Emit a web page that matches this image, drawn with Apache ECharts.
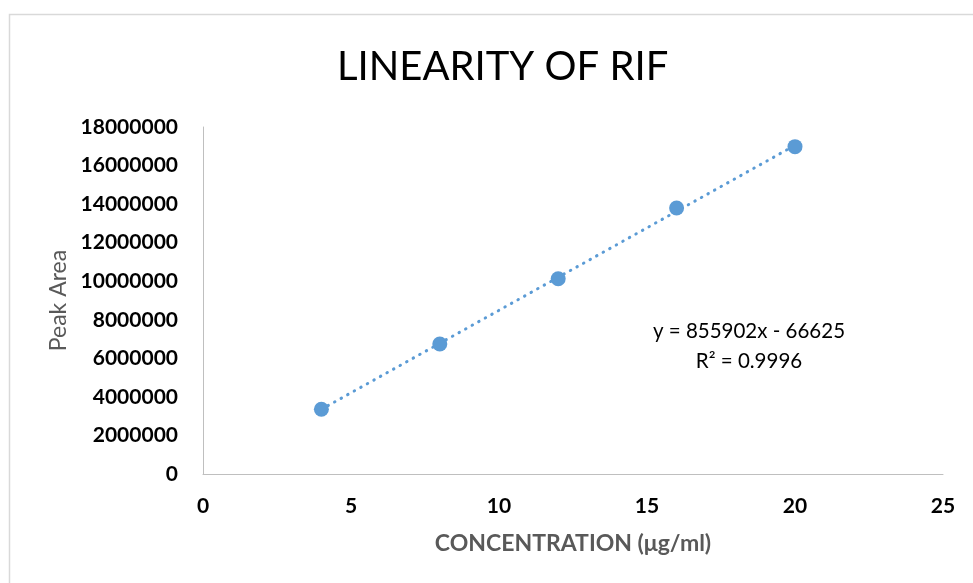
<!DOCTYPE html>
<html>
<head>
<meta charset="utf-8">
<script src="https://cdn.jsdelivr.net/npm/echarts@6/dist/echarts.min.js"></script>
<style>
html,body{margin:0;padding:0;background:#fff;}
#c{width:973px;height:583px;}
</style>
</head>
<body>
<div id="c"></div>
<script>
const concentration = [4, 8, 12, 16, 20];
const peakArea = [3356000, 6745000, 10130000, 13800000, 16980000];
const trendX = [4, 20];
const trendY = [3356983, 17051415];
const xTicks = [0, 5, 10, 15, 20, 25];
const yTicks = [0, 2000000, 4000000, 6000000, 8000000, 10000000, 12000000, 14000000, 16000000, 18000000];
const titleText = 'LINEARITY OF RIF';
const equationLines = ['y = 855902x - 66625', 'R² = 0.9996'];

const FONT = 'Lato, "Open Sans", sans-serif';
const BLUE = '#5B9BD5';

const chart = echarts.init(document.getElementById('c'), null, {renderer: 'canvas'});
chart.setOption({
  animation: false,
  backgroundColor: '#fff',
  title: {
    text: titleText,
    left: 332,
    top: 42,
    textStyle: {fontFamily: FONT, fontSize: 40, fontWeight: 'normal', color: '#000'}
  },
  grid: {left: 203, right: 30, top: 127, bottom: 109, containLabel: false},
  xAxis: {
    type: 'value',
    min: xTicks[0],
    max: xTicks[xTicks.length - 1],
    interval: xTicks[1] - xTicks[0],
    name: 'CONCENTRATION (μg/ml)',
    nameLocation: 'middle',
    nameGap: 58,
    nameTextStyle: {fontFamily: FONT, fontSize: 23, fontWeight: 'bold', color: '#595959'},
    axisLine: {show: true, lineStyle: {color: '#BFBFBF', width: 1}},
    axisTick: {show: false},
    splitLine: {show: false},
    axisLabel: {margin: 22, fontFamily: FONT, fontSize: 21, fontWeight: 'bold', color: '#000',
      formatter: v => String(v)}
  },
  yAxis: {
    type: 'value',
    min: yTicks[0],
    max: yTicks[yTicks.length - 1],
    interval: yTicks[1] - yTicks[0],
    name: 'Peak Area',
    nameLocation: 'middle',
    nameGap: 127,
    nameTextStyle: {fontFamily: FONT, fontSize: 23, fontWeight: 'normal', color: '#595959'},
    axisLine: {show: true, lineStyle: {color: '#BFBFBF', width: 1}},
    axisTick: {show: false},
    splitLine: {show: false},
    axisLabel: {margin: 25, fontFamily: FONT, fontSize: 21, fontWeight: 'bold', color: '#000',
      formatter: v => String(v)}
  },
  series: [
    {
      type: 'line',
      data: trendX.map((x, i) => [x, trendY[i]]),
      symbol: 'none',
      z: 1,
      lineStyle: {color: BLUE, width: 3, type: [0.5, 7], cap: 'round'}
    },
    {
      type: 'scatter',
      data: concentration.map((x, i) => [x, peakArea[i]]),
      symbol: 'circle',
      symbolSize: 15,
      z: 3,
      itemStyle: {color: BLUE, opacity: 1}
    }
  ],
  graphic: [
    {
      type: 'rect',
      shape: {x: 9.5, y: 14.5, width: 1000, height: 600},
      style: {fill: 'none', stroke: '#D9D9D9', lineWidth: 1.5},
      silent: true
    },
    {
      type: 'text',
      x: 749, y: 331,
      style: {text: equationLines[0], fontFamily: FONT, fontSize: 20.5, fill: '#000', textAlign: 'center', textVerticalAlign: 'middle'}
    },
    {
      type: 'text',
      x: 749, y: 361,
      style: {text: equationLines[1], fontFamily: FONT, fontSize: 20.5, fill: '#000', textAlign: 'center', textVerticalAlign: 'middle'}
    }
  ]
});
</script>
</body>
</html>
